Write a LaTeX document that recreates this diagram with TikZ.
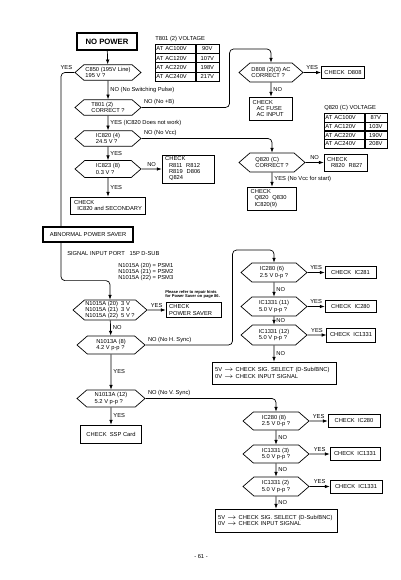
\documentclass[tikz,border=0pt]{standalone}
\usepackage{amsmath,amssymb}
\usepackage{fontspec}
\setmainfont{Liberation Sans}
\usetikzlibrary{arrows.meta, positioning, shapes.symbols}

\begin{document}
\begin{tikzpicture}[
  x=0.25mm, y=-0.25mm,
  font=\fontsize{4.1}{4.5}\selectfont,
  hexa/.style={draw, line width=0.5pt, signal, signal to=east and west, signal pointer angle=82, minimum width=16.5mm, minimum height=3.9mm, inner sep=0pt, align=left},
  cbox/.style={draw, line width=0.5pt, inner xsep=0.8mm, inner ysep=0.5mm, align=left},
  tbox/.style={draw, line width=1.1pt, inner sep=0pt, align=center},
  cella/.style={draw, line width=0.4pt, anchor=north west, text width=9.4mm, inner xsep=0.3mm, inner ysep=0pt, minimum height=2.31mm, align=left},
  cellb/.style={draw, line width=0.4pt, minimum width=5.75mm, inner sep=0pt, minimum height=2.31mm},
  arr/.style={-{Latex[length=1.2mm, width=0.9mm]}, line width=0.5pt},
  wire/.style={line width=0.5pt, rounded corners=1mm},
  lbl/.style={inner sep=1.5pt},
]
\useasboundingbox (0,0) rectangle (400,580);

% left column
\node[tbox, minimum width=15mm, minimum height=4.25mm, font=\fontsize{5.5}{6}\selectfont\bfseries] (nopower) at (107,41.5) {NO POWER};
\node[hexa] (c850) at (108,72.5) {C850 (195V Line)\\195 V ?};
\node[hexa] (t801) at (108,107.5) {T801 (2)\\CORRECT ?};
\node[hexa] (ic820) at (108,138.5) {IC820 (4)\\24.5 V ?};
\node[hexa, minimum height=4.25mm] (ic823) at (108,169) {IC823 (8)\\0.3 V ?};
\node[cbox, text width=11.4mm, minimum height=6mm] (chkr811) at (188,169) {CHECK\\\ \ R811\ \ R812\\\ \ R819\ \ D806\\\ \ Q824};
\node[cbox, minimum width=18.75mm, minimum height=4.25mm] (chkic820) at (108,205.5) {CHECK\\\ \ IC820 and SECONDARY};

% T801 voltage table
\node[anchor=south west, inner sep=0pt] (t801lbl) at (155,42) {T801 (2) VOLTAGE};
\foreach \acv/\volt [count=\i from 0] in {100/90, 120/107, 220/198, 240/217} {
  \node[cella] (ta\i) at (155,44+9.25*\i) {AT AC\acv V};
  \node[cellb, right=0pt of ta\i] (tb\i) {\volt V};
}

% right column, top
\node[hexa, minimum width=16mm, minimum height=4.75mm] (d808) at (271,72.5) {D808 (2)(3) AC\\CORRECT ?};
\node[cbox, minimum width=10mm, minimum height=3mm, align=center] (chkd808) at (343,72.5) {CHECK\ \ D808};
\node[cbox, text width=9.15mm, minimum height=5.75mm] (chkfuse) at (271,108.5) {CHECK\\\ \ AC FUSE\\\ \ AC INPUT};

% Q820 voltage table
\node[anchor=south west, inner sep=0pt] (q820lbl) at (324,111) {Q820 (C) VOLTAGE};
\foreach \acv/\volt [count=\i from 0] in {100/87, 120/103, 220/190, 240/208} {
  \node[cella, minimum height=2.19mm] (qa\i) at (324,113+8.75*\i) {AT AC\acv V};
  \node[cellb, minimum height=2.19mm, minimum width=5.5mm, right=0pt of qa\i] (qb\i) {\volt V};
}

\node[hexa, minimum height=4.75mm] (q820) at (272,162.5) {Q820 (C)\\CORRECT ?};
\node[cbox, text width=9.15mm, minimum height=4.25mm] (chkr820) at (345.5,162.5) {CHECK\\\ \ R820\ \ R827};
\node[cbox, text width=10.65mm, minimum height=5.75mm] (chkq820) at (272,198.5) {CHECK\\\ \ Q820\ \ Q830\\\ \ IC820(9)};

% power saver part
\node[tbox, minimum width=22.5mm, minimum height=3.75mm] (abps) at (88,234.5) {ABNORMAL POWER SAVER};
\node[anchor=west, inner sep=0pt] (sigport) at (67,254) {SIGNAL INPUT PORT\ \ \ 15P D-SUB};
\node[anchor=west, inner sep=0pt, align=left] (psm) at (118,272) {N1015A (20) = PSM1\\N1015A (21) = PSM2\\N1015A (22) = PSM3};
\node[hexa, minimum width=18.5mm, minimum height=5mm] (n1015a) at (110,310) {N1015A (20)\ \ 3 V\\N1015A (21)\ \ 3 V\\N1015A (22)\ \ 5 V ?};
\node[anchor=south west, inner sep=0pt, align=left, font=\fontsize{2.9}{3.2}\selectfont\bfseries] (note) at (165,299) {Please refer to repair hints\\for Power Saver on page 86.};
\node[cbox, text width=12.15mm, minimum height=3.5mm] (chkps) at (193.5,310) {CHECK\\POWER SAVER};
\node[hexa, minimum width=17mm, minimum height=4.5mm] (n1013a) at (111,345) {N1013A (8)\\4.2 V p-p ?};
\node[hexa, minimum width=17mm, minimum height=4.25mm] (n1013b) at (111,398.5) {N1013A (12)\\5.2 V p-p ?};
\node[cbox, minimum width=15.25mm, minimum height=4.5mm, align=center] (chkssp) at (111,434) {CHECK\ \ SSP Card};

% right column, bottom
\node[hexa, minimum height=4.75mm] (ic280a) at (274,272.5) {IC280 (6)\\2.5 V 0-p ?};
\node[cbox, minimum width=12.75mm, minimum height=3mm, align=center] (chkic281) at (350.5,272.5) {CHECK\ \ IC281};
\node[hexa, minimum height=4.75mm] (ic1331a) at (274,306.5) {IC1331 (11)\\5.0 V p-p ?};
\node[cbox, minimum width=12.75mm, minimum height=3mm, align=center] (chkic280a) at (350.5,306.5) {CHECK\ \ IC280};
\node[hexa, minimum height=5mm] (ic1331b) at (274,335) {IC1331 (12)\\5.0 V p-p ?};
\node[cbox, minimum width=12mm, minimum height=3.5mm, align=center] (chkic1331a) at (351,335) {CHECK\ \ IC1331};
\node[cbox, text width=29.4mm, minimum height=5.5mm] (sel1) at (274,373) {5V $\rightarrow$ CHECK SIG. SELECT (D-Sub/BNC)\\0V $\rightarrow$ CHECK INPUT SIGNAL};

\node[hexa, minimum height=4.5mm] (ic280b) at (276,421) {IC280 (8)\\2.5 V 0-p ?};
\node[cbox, minimum width=13mm, minimum height=3.25mm, align=center] (chkic280b) at (354,421) {CHECK\ \ IC280};
\node[hexa, minimum height=4.5mm] (ic1331c) at (276,454) {IC1331 (3)\\5.0 V p-p ?};
\node[cbox, minimum width=12.5mm, minimum height=3.25mm, align=center] (chkic1331b) at (355,454) {CHECK\ \ IC1331};
\node[hexa, minimum height=4.75mm] (ic1331d) at (276,486.5) {IC1331 (2)\\5.0 V p-p ?};
\node[cbox, minimum width=13mm, minimum height=3.25mm, align=center] (chkic1331c) at (356,486.5) {CHECK\ \ IC1331};
\node[cbox, text width=28.9mm, minimum height=5.75mm] (sel2) at (276,520.5) {5V $\rightarrow$ CHECK SIG. SELECT (D-Sub/BNC)\\0V $\rightarrow$ CHECK INPUT SIGNAL};

\node (page) at (201,557) {- 61 -};

% connectors, top half
\draw[arr] (nopower) -- (c850);
\draw[wire] (c850.west) -| node[lbl, above, pos=0.3]{YES} ([xshift=-6.75mm]abps.north);
\draw[arr] (c850) -- node[lbl, right]{NO (No Switching Pulse)} (t801);
\draw[arr, rounded corners=1mm] (t801.east) node[lbl, above right]{NO (No +B)} -| ++(88,-58.5) -| (d808.north);
\draw[arr] (t801) -- node[lbl, right]{YES (IC820 Does not work)} (ic820);
\draw[arr, rounded corners=1mm] (ic820.east) node[lbl, above right]{NO (No Vcc)} -| (q820.north);
\draw[arr] (ic820) -- node[lbl, right]{YES} (ic823);
\draw[arr] (ic823) -- node[lbl, above]{NO} (chkr811);
\draw[arr] (ic823) -- node[lbl, right]{YES} (chkic820);
\draw[arr] (d808) -- node[lbl, above]{YES} (chkd808);
\draw[arr] (d808) -- node[lbl, right]{NO} (chkfuse);
\draw[arr] (q820) -- node[lbl, above]{NO} (chkr820);
\draw[arr] (q820) -- node[lbl, right]{YES (No Vcc for start)} (chkq820);

% connectors, bottom half
\draw[arr, rounded corners=1mm] ([xshift=-6.75mm]abps.south) |- ([yshift=4.75mm]n1015a.north) -- (n1015a.north);
\draw[arr] (n1015a) -- node[lbl, above]{YES} (chkps);
\draw[arr] (n1015a) -- node[lbl, right]{NO} (n1013a);
\draw[arr, rounded corners=1mm] (n1013a.east) node[lbl, above right]{NO (No H. Sync)} -| ++(87,-95) -| (ic280a.north);
\draw[arr] (n1013a) -- node[lbl, right]{YES} (n1013b);
\draw[arr, rounded corners=1mm] (n1013b.east) node[lbl, above right]{NO (No V. Sync)} -| (ic280b.north);
\draw[arr] (n1013b) -- node[lbl, right]{YES} (chkssp);

\draw[arr] (ic280a) -- node[lbl, above]{YES} (chkic281);
\draw[arr] (ic280a) -- node[lbl, right]{NO} (ic1331a);
\draw[arr] (ic1331a) -- node[lbl, above]{YES} (chkic280a);
\draw[arr] (ic1331a) -- node[lbl, right]{NO} (ic1331b);
\draw[arr] (ic1331b) -- node[lbl, above]{YES} (chkic1331a);
\draw[arr] (ic1331b) -- node[lbl, right]{NO} (sel1);

\draw[arr] (ic280b) -- node[lbl, above]{YES} (chkic280b);
\draw[arr] (ic280b) -- node[lbl, right]{NO} (ic1331c);
\draw[arr] (ic1331c) -- node[lbl, above]{YES} (chkic1331b);
\draw[arr] (ic1331c) -- node[lbl, right]{NO} (ic1331d);
\draw[arr] (ic1331d) -- node[lbl, above]{YES} (chkic1331c);
\draw[arr] (ic1331d) -- node[lbl, right]{NO} (sel2);

\end{tikzpicture}
\end{document}
